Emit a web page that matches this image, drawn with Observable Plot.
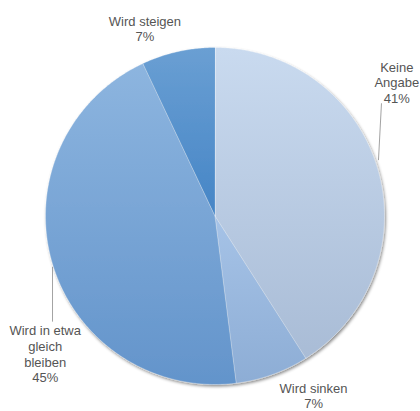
<!DOCTYPE html>
<html><head><meta charset="utf-8">
<script src="https://cdn.jsdelivr.net/npm/d3@7"></script>
<script src="https://cdn.jsdelivr.net/npm/@observablehq/plot@0.6"></script>
<style>html,body{margin:0;padding:0;background:#fff} svg{display:block}</style>
</head><body><div id="chart"></div>
<script>
// ---- data ----
const categories = ["Keine Angabe", "Wird sinken", "Wird in etwa gleich bleiben", "Wird steigen"];
const labels = ["Keine\nAngabe", "Wird sinken", "Wird in etwa\ngleich\nbleiben", "Wird steigen"];
const values = [41, 7, 45, 7];
const gradTop = ["#c9daef", "#a6c3e7", "#8db5df", "#6a9fd3"];
const gradBottom = ["#a9bcd6", "#8dadd5", "#6394cb", "#4585c6"];

// ---- layout (pixel offsets of labels from slice mid-edge) ----
const R = 169;
const labelOffset = [[19, -87], [41, 21], [-7, 91], [-33, -23]];
const leaderOffset = [[[3.7, -65.9], [0.7, -8.9]], null, [[0.3, 3.8], [0.3, 58.8]], null];

const total = d3.sum(values);
const slices = [];
let acc = 0;
values.forEach((v, i) => {
  const a0 = acc / total * 2 * Math.PI; acc += v;
  const a1 = acc / total * 2 * Math.PI;
  slices.push({i, a0, a1, mid: (a0 + a1) / 2});
});

const verts = [];
for (const s of slices) {
  const f = `url(#g${s.i})`;
  verts.push({slice: s.i, x: 0, y: 0, fill: f});
  const n = Math.max(2, Math.ceil((s.a1 - s.a0) / (Math.PI / 360)));
  for (let k = 0; k <= n; k++) {
    const a = s.a0 + (s.a1 - s.a0) * k / n;
    verts.push({slice: s.i, x: Math.sin(a), y: Math.cos(a), fill: f});
  }
}

const labelData = slices.map(s => ({
  x: Math.sin(s.mid) + labelOffset[s.i][0] / R,
  y: Math.cos(s.mid) - labelOffset[s.i][1] / R,
  text: labels[s.i] + "\n" + values[s.i] + "%"
}));

const leaders = slices.filter(s => leaderOffset[s.i]).map(s => {
  const [[ax, ay], [bx, by]] = leaderOffset[s.i];
  return {
    x1: Math.sin(s.mid) + ax / R, y1: Math.cos(s.mid) - ay / R,
    x2: Math.sin(s.mid) + bx / R, y2: Math.cos(s.mid) - by / R
  };
});

const svg = Plot.plot({
  width: 420, height: 411,
  marginLeft: 45, marginRight: 36, marginTop: 47, marginBottom: 27,
  x: {domain: [-1, 1], axis: null},
  y: {domain: [-1, 1], axis: null},
  color: {type: "identity"},
  style: {background: "#fff", fontFamily: "'Liberation Sans', Arial, sans-serif"},
  marks: [
    Plot.line(verts, {x: "x", y: "y", z: "slice", fill: "fill", stroke: "#ffffff", strokeOpacity: 0.5, strokeWidth: 0.6, curve: "linear-closed"}),
    Plot.link(leaders, {x1: "x1", y1: "y1", x2: "x2", y2: "y2", stroke: "#8a8a8a", strokeWidth: 0.8}),
    Plot.text(labelData, {x: "x", y: "y", text: "text", fontSize: 13, fill: "#555555", lineAnchor: "middle", lineHeight: 1.2})
  ]
});

const defs = d3.select(svg).insert("defs", ":first-child");
values.forEach((v, i) => {
  const g = defs.append("linearGradient").attr("id", `g${i}`).attr("x1", 0).attr("y1", 0).attr("x2", 0).attr("y2", 1);
  g.append("stop").attr("offset", "0%").attr("stop-color", gradTop[i]);
  g.append("stop").attr("offset", "100%").attr("stop-color", gradBottom[i]);
});
const flt = defs.append("filter").attr("id", "shadow").attr("x", "-10%").attr("y", "-10%").attr("width", "120%").attr("height", "120%");
flt.append("feDropShadow").attr("dx", 1.2).attr("dy", 1.8).attr("stdDeviation", 1.4).attr("flood-color", "#000").attr("flood-opacity", 0.45);
d3.select(svg).select('g[aria-label="line"]').attr("filter", "url(#shadow)");

document.getElementById("chart").appendChild(svg);
</script>
</body></html>
